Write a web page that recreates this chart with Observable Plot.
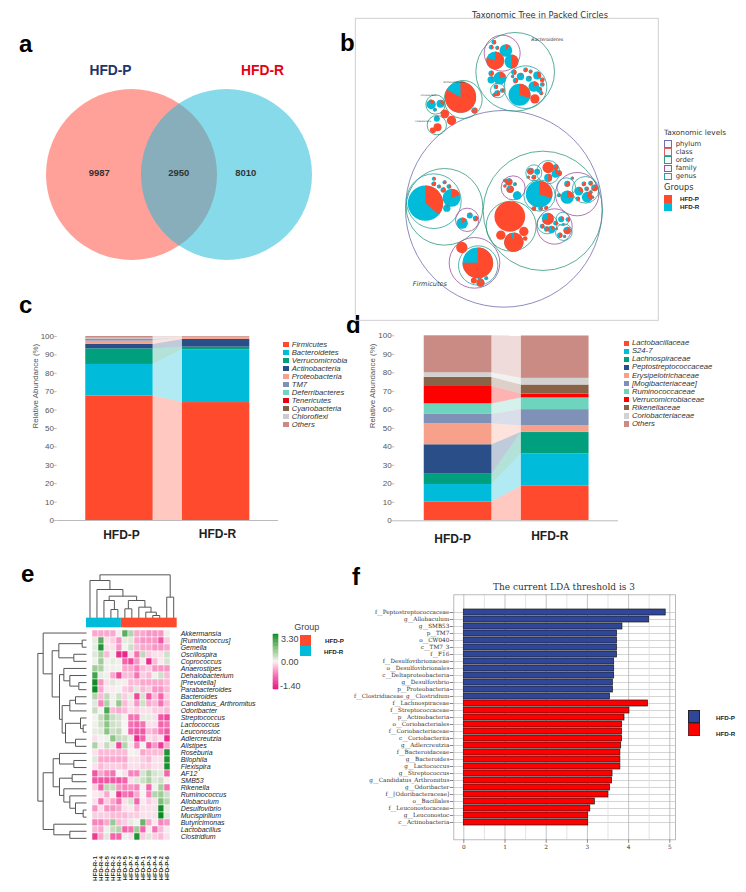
<!DOCTYPE html>
<html><head><meta charset="utf-8">
<style>
html,body{margin:0;padding:0;background:#fff}
#root{position:relative;width:746px;height:892px;overflow:hidden;font-family:"Liberation Sans",Arial,sans-serif}
.p{position:absolute}
.t{position:absolute;white-space:nowrap;transform:translateY(-50%);line-height:1}
.s{position:absolute;box-sizing:border-box}
</style>
<script src="https://cdn.jsdelivr.net/npm/d3@7"></script>
<script src="https://cdn.jsdelivr.net/npm/@observablehq/plot@0.6"></script>
</head><body><div id="root"></div>
<script>
const RED="#FF4A2E", CYAN="#00BBDA";
// ---- a: Venn
const vennCounts=[{label:"9987",x:98.7},{label:"2950",x:178.3},{label:"8010",x:245.3}];
const vennSets=[{name:"HFD-P",x:131,fill:"#FFA199",op:1},{name:"HFD-R",x:226,fill:"#1CB9D7",op:.53}];
// ---- b: packed circles (view units, 3 per pixel)
const levelNames=["phylum","class","order","family","genus"];
const levelColors=["#6f6fae","#e06060","#2f9a80","#a050a0","#2aa0a0"];
const rings=[[490,625,295,0],[607,631,179,2],[312,619,115,2],[280,602,82,4],[380,658,35,3],[402,787,76,3],[413,795,59,4],
[512,677,75,2],[518,562,36,3],[580,517,24,4],[623,515,35,4],[597,585,47,4],[710,581,65,3],[642,678,53,3],[620,670,30,4],[667,655,20,4],[670,695,25,4],[677,560,28,4],[735,568,40,4],
[524,214,118,2],[485,158,54,3],[555,260,64,4],[472,270,22,4],[368,297,57,2],[285,312,29,2],[289,374,29,2]];
const pies=[[360,290,47,.83],[255,608,53,.36],[333,592,27,.2],[319,623,11,.1],[412,787,46,.75],[508,648,46,1],[520,725,29,.95],[481,704,14,1],[550,693,14,1],[554,714,7,1],
[596,581,40,.3],[623,501,17,1],[364,741,17,1],[537,283,33,.3],[464,180,27,.8],[496,150,19,.1],[513,183,21,.5],[583,295,14,1],[333,360,14,1],[313,340,13,1],[402,330,9,.8],[291,380,12,1],[278,390,8,1],
[460,125,7,.5],[452,140,7,.5],[470,142,6,.6],[452,218,8,.7],[452,238,11,.1],[478,233,19,.2],[466,259,7,.5],[470,278,9,.7],[485,270,7,.5],[461,283,6,.6],
[520,215,8,.5],[525,240,8,.6],[540,228,11,.1],[555,208,7,.7],[565,235,9,.2],[570,213,6,.6],[590,225,12,.4],[605,238,7,.8],[580,258,16,.2],[596,268,9,.3],[605,252,7,.4],[602,278,6,.6],[516,228,5,.5],
[272,312,14,.15],[300,310,12,.3],[283,328,6,.3],[270,302,5,.7],[289,355,9,.1],[275,388,7,1],
[505,544,11,.9],[523,551,6,.3],[509,566,11,.8],[530,585,13,.05],[493,556,5,.7],[492,540,5,.7],
[570,512,10,.9],[590,514,9,.1],[580,530,7,.8],[563,530,5,.5],[645,500,9,.8],[655,518,9,.5],[645,520,12,.3],[623,532,12,.5],[580,624,7,.8],[600,624,7,.5],[617,622,6,.8],
[622,655,18,.7],[605,677,7,.6],[618,685,8,.6],[633,687,11,.2],[645,668,7,.5],[648,685,4,.5],[662,656,9,.3],[682,657,7,.5],[668,672,4,.3],[680,690,11,.8],[658,704,8,.6],[672,708,5,.4],
[680,590,20,.25],[655,584,6,.5],[680,550,9,.7],[695,533,5,.4],[740,590,16,.35],[715,572,13,.3],[730,550,7,.7],[750,548,7,.6],[738,565,7,.5],[762,562,10,.7],[750,575,6,.5],[712,595,7,.5],[756,590,5,.5],
[280,535,6,.4],[280,550,7,.8],[295,558,6,.5],[312,545,6,.6],[308,568,8,.7],[325,558,7,.5],[365,668,17,.15],[388,645,9,.1],[405,654,8,.6],
[400,840,9,1],[420,847,12,.95],[417,835,6,.3],[437,833,6,.2]];
const packLabels=[{s:"Bacteroidetes",x:620,y:118,fs:4.6},{s:"Firmicutes",x:268,y:850,fs:6.5},{s:"Verrucomicrobia",x:340,y:245,fs:2.6},{s:"Actinobacteria",x:264,y:283,fs:2.2},{s:"Proteobacteria",x:248,y:362,fs:2.2}];
// ---- c
const phyla=["Firmicutes","Bacteroidetes","Verrucomicrobia","Actinobacteria","Proteobacteria","TM7","Deferribacteres","Tenericutes","Cyanobacteria","Chloroflexi","Others"];
const phylaP=[67.6,17.2,8.5,2.4,1.8,1.0,.1,.05,.05,.4,.9];
const phylaR=[64.1,28.7,1.4,4.2,.9,.1,.05,.05,.0,.1,.4];
const phylaColors=["#FF4A2E","#00BBDA","#00A07F","#2A4E87","#F7A18A","#8091B8","#6FD4BE","#E60012","#7E6148","#CCCCCC","#C98B84"];
// ---- d
const families=["Lactobacillaceae","S24-7","Lachnospiraceae","Peptostreptococcaceae","Erysipelotrichaceae","[Mogibacteriaceae]","Ruminococcaceae","Verrucomicrobiaceae","Rikenellaceae","Coriobacteriaceae","Others"];
const familyP=[10.1,9.5,5.6,15.9,11.3,5.1,5.7,9.4,4.9,2.5,20];
const familyR=[18.7,17.5,11.5,.1,3.5,8.8,6.3,2.1,4.9,3.6,22.9];
const familyColors=["#FF4A2E","#00BBDA","#00A07F","#2A4E87","#F7A18A","#8091B8","#6FD4BE","#FF0000","#8A6248","#D2D2D2","#C98B84"];
const percentTicks=[0,10,20,30,40,50,60,70,80,90,100];
const barSlots=[{g:"HFD-P",x1:0,x2:1},{g:"HFD-R",x1:1.435,x2:2.435}];
// ---- e
const heatCols=["HFD-R-1","HFD-R-4","HFD-R-5","HFD-R-2","HFD-R-3","HFD-P-5","HFD-P-7","HFD-P-8","HFD-P-1","HFD-P-3","HFD-P-4","HFD-P-2","HFD-P-6"];
const heatRows=["Akkermansia","[Ruminococcus]","Gemella","Oscillospira","Coprococcus","Anaerostipes","Dehalobacterium","[Prevotella]","Parabacteroides","Bacteroides","Candidatus_Arthromitus","Odoribacter","Streptococcus","Lactococcus","Leuconostoc","Adlercreutzia","Alistipes","Roseburia","Bilophila","Flexispira","AF12","SMB53","Rikenella","Ruminococcus","Allobaculum","Desulfovibrio","Mucispirillum","Butyricimonas","Lactobacillus","Clostridium"];
const heatValues=[
[-.4,-.4,-.4,-.4,-.05,2.2,.9,-.4,-.4,-.5,-.5,-.5,.1],
[.2,2.2,-.1,-.2,-.5,.2,.3,-.4,-.5,-.5,-.5,-.9,-.2],
[.2,3,-.1,-.1,-.5,.05,.5,-.3,-.4,-.4,-.5,-.5,-.4],
[.3,1,-.3,.1,-1.2,-1.25,-.1,-.7,.7,-.2,-.1,-.1,.5],
[.1,1.2,.1,.2,.1,-.8,-1,-.5,-.05,-1.2,-.3,-.05,.4],
[1.2,1,.1,.1,.05,-.4,-.4,-.6,-.3,-.2,-.5,-.5,-.5],
[2.5,.2,.1,-.4,-1,-.3,-.3,-.7,-.2,-.3,.1,.5,-.3],
[3.2,-.5,-.1,.3,.1,-.05,-.3,-.3,-.4,-.4,-.4,-.4,-.3],
[3.3,-.4,-.05,-.05,.05,-.2,-.3,.3,-.3,-.2,-.5,-.5,-.3],
[.9,-.3,.7,.1,.5,-.2,.2,-1,.4,-.9,-.3,-.8,-.2],
[.3,-.6,1,.1,1.4,-.3,-.1,-.5,.5,-.4,-.3,-.7,-.3],
[.6,.05,2.4,-.3,-.4,-.3,-.1,-.2,-.1,-.1,-.2,-.2,-.3],
[.05,.6,1.6,.6,.4,.05,-.7,-.7,.2,.2,-.1,-.9,-1],
[.1,.5,1.5,.5,.4,0,-.7,-.8,-.7,-.1,-.1,-.8,-.7],
[.2,.3,1.5,.5,.7,0,-.8,-.9,-.9,-.3,-.4,-.7,-.9],
[-.1,.05,.1,1.5,.6,.5,.2,-1.2,-.8,-.1,-.2,-.1,-1.2],
[1,-.05,.6,.2,-1,.9,-.05,-.6,.05,-.9,-.5,-1.1,-.4],
[-.1,-.3,-.3,-.3,-.3,-.3,.05,.1,-.4,-.3,-.3,-.3,3],
[.3,-.4,-.4,-.4,-.4,-.4,-.1,-.1,-.2,-.3,-.1,-.1,3],
[-.1,-.3,-.2,-.2,-.2,-.3,-.1,-.1,-.2,-.2,-.1,-.1,3.1],
[-.9,-.4,-.6,-.7,0,-.1,-.6,-.6,.4,1,.4,.3,-.8],
[-.9,-.9,-.9,-.9,-.9,-.8,-.1,.3,.5,1,.3,.5,.05],
[-.2,-.8,.7,.6,-.5,-.6,-.5,-.6,.05,-.8,.1,1.1,-.7],
[-.05,-.1,-.4,.05,-1.1,-.7,-.8,-.4,0,-.6,.9,1.2,.5],
[-.1,-.7,-.2,-.4,-.7,-.1,.4,-.8,-.05,-.2,-.1,1.7,.8],
[-.5,-.1,-.5,-.5,-.4,-.1,-.05,-.3,-.1,-.1,-.1,3.2,.2],
[-.2,-.2,-.2,-.3,-.3,-.3,-.2,-.2,-.1,-.1,-.1,3.3,.3],
[-.6,-.6,-.4,1.3,-.3,-.2,.2,.05,2,-.4,-.05,-.6,-.5],
[-.3,-.4,.1,.6,.9,-.8,-.7,1.2,-.8,-.05,-.7,-.3,-.05],
[-1.1,-.4,.3,-.8,-.8,.1,-.1,3,-.2,.3,-.2,-.3,-.1]];
const heatDomain=[-1.4,-.7,-.25,0,.6,1.6,3.3];
const heatRange=["#e5127f","#f572b3","#fcc3dc","#f7f4f3","#c7dcc0","#86c27f","#0a8a22"];
const groupBars=[{g:"HFD-R",from:0,to:5,c:CYAN},{g:"HFD-P",from:5,to:13,c:RED}];
// dendrograms: [height, childA, childB], leaves are indexes
const colTree=[28,[45,0,[72,1,[92,[105,2,[132,3,4]],[105,[130,5,6],[125,7,[140,8,[150,9,10]]]]]]],[95,11,12]];
const rowTree=[82,
 [98,0,[125,[145,[215,1,2],[190,3,4]],[147,[160,5,[178,6,[205,7,8]]],[155,[178,[195,9,10],11],[165,[210,12,[218,13,14]],[195,15,16]]]]]],
 [98,[128,[147,17,[190,18,19]],[147,[185,20,21],[160,22,[178,23,[195,24,[218,25,26]]]]]],[130,27,[178,28,29]]]];
// ---- f
const ldaNames=["f__Peptostreptococcaceae","g__Allobaculum","g__SMB53","p__TM7","o__CW040","c__TM7_3","f__F16","f__Desulfovibrionaceae","o__Desulfovibrionales","c__Deltaproteobacteria","g__Desulfovibrio","p__Proteobacteria","f__Clostridiaceae_g__Clostridium","f__Lachnospiraceae","f__Streptococcaceae","p__Actinobacteria","o__Coriobacteriales","f__Coriobacteriaceae","c__Coriobacteriia","g__Adlercreutzia","f__Bacteroidaceae","g__Bacteroides","g__Lactococcus","g__Streptococcus","g__Candidatus_Arthromitus","g__Odoribacter","f__[Odoribacteraceae]","o__Bacillales","f__Leuconostocaceae","g__Leuconostoc","c__Actinobacteria"];
const ldaValues=[4.9,4.5,3.85,3.72,3.72,3.72,3.72,3.65,3.65,3.65,3.62,3.62,3.55,4.47,4.02,3.9,3.84,3.84,3.84,3.82,3.8,3.8,3.8,3.61,3.6,3.55,3.51,3.18,3.07,3.02,3.02];
const ldaGroupP=13;
const ldaMajor=[0,1,2,3,4,5], ldaMinor=[.5,1.5,2.5,3.5,4.5];

// ---- helpers
const root=document.getElementById("root");
function panel(left,top,width,height,opts,family){
  const svg=Plot.plot({width,height,marginTop:0,marginRight:0,marginBottom:0,marginLeft:0,
    style:{background:"transparent",overflow:"visible",fontFamily:family||'"Liberation Sans",Arial,sans-serif'},...opts});
  svg.setAttribute("class",(svg.getAttribute("class")||"")+" p");
  svg.style.position="absolute";svg.style.left=left+"px";svg.style.top=top+"px";svg.style.maxWidth="none";
  root.appendChild(svg);return svg;
}
function txt(x,y,s,css){const d=document.createElement("div");d.className="t";d.textContent=s;d.style.left=x+"px";d.style.top=y+"px";Object.assign(d.style,css||{});root.appendChild(d);return d;}
function box(x,y,w,h,css){const d=document.createElement("div");d.className="s";Object.assign(d.style,{left:x+"px",top:y+"px",width:w+"px",height:h+"px"},css);root.appendChild(d);}
const letter={fontWeight:"bold",fontSize:"24px",color:"#000"};
[["a",19,44],["b",340,43],["c",19,305],["d",346,325],["e",21,574],["f",352,577]].forEach(([s,x,y])=>txt(x,y,s,letter));
const noAxis={axis:null};

// a
panel(0,0,340,270,{x:{domain:[0,340],...noAxis},y:{domain:[270,0],...noAxis},r:{type:"linear",domain:[0,100],range:[0,100]},
 marks:[
  ...vennSets.map(s=>Plot.dot([s],{x:"x",y:()=>174,r:()=>85.5,fill:"fill",fillOpacity:s.op})),
  Plot.text(vennCounts,{x:"x",y:()=>172.7,text:"label",fontSize:9.5,fontWeight:"bold",fill:"#333"}),
  Plot.text(vennSets,{x:d=>d.name==="HFD-P"?110:262,y:()=>70,text:"name",fontSize:13.8,fontWeight:"bold",fill:d=>d.name==="HFD-P"?"#1F3468":"#E60012"})
 ]});

// b
const wedge=f=>({draw(ctx,size){const r=Math.sqrt(size/Math.PI);const a=-Math.PI/2;ctx.moveTo(0,0);ctx.arc(0,0,r,a,a+2*Math.PI*f);ctx.closePath();}});
const fullPies=pies.filter(p=>p[3]>=1), partPies=pies.filter(p=>p[3]<1);
panel(340,0,400,330,{x:{domain:[0,1200],...noAxis},y:{domain:[990,0],...noAxis},r:{type:"linear",domain:[0,3],range:[0,1]},
 marks:[
  Plot.rect([{}],{x1:()=>46,x2:()=>955,y1:()=>55,y2:()=>961,fill:"none",stroke:"#cfcfcf",strokeWidth:1}),
  Plot.dot(rings,{x:d=>d[0],y:d=>d[1],r:d=>d[2],fill:"none",stroke:d=>levelColors[d[3]],strokeWidth:.8}),
  Plot.dot(partPies,{x:d=>d[0],y:d=>d[1],r:d=>d[2],fill:CYAN}),
  Plot.dot(fullPies,{x:d=>d[0],y:d=>d[1],r:d=>d[2],fill:RED}),
  ...partPies.map(p=>Plot.dot([p],{x:d=>d[0],y:d=>d[1],r:d=>d[2],fill:RED,symbol:wedge(p[3])})),
  Plot.text(packLabels,{x:"x",y:"y",text:"s",fontSize:"fs",fontStyle:"italic",fill:"#333"})
 ]},'"DejaVu Sans",sans-serif');
const dj='"DejaVu Sans",sans-serif';
txt(540,14.7,"Taxonomic Tree in Packed Circles",{fontFamily:dj,fontSize:"8.3px",color:"#333",transform:"translate(-50%,-50%)"});
txt(664,132.5,"Taxonomic levels",{fontFamily:dj,fontSize:"7.3px",color:"#333"});
levelNames.forEach((n,i)=>{box(664,140+i*8.17,7.5,7.5,{border:"1px solid "+levelColors[i],background:"#f4f8fb"});txt(675.7,143.8+i*8.17,n,{fontFamily:dj,fontSize:"6.8px",color:"#333"});});
txt(664,187,"Groups",{fontFamily:dj,fontSize:"8.3px",color:"#333"});
[["HFD-P",RED],["HFD-R",CYAN]].forEach(([n,c],i)=>{box(664,195+i*8,7.7,7.7,{background:c});txt(680,198.8+i*8,n,{fontSize:"6.2px",fontWeight:"bold",color:"#222"});});

// c, d
function stacked(left,top,width,height,mL,mT,mB,xDomain,names,vP,vR,colors,labels){
  const acc=(v)=>{let s=0;return v.map(x=>{const a=s;s+=x;return [a,s];});};
  const sP=acc(vP),sR=acc(vR);
  const rects=[];const flows=[];
  names.forEach((n,i)=>{
    if(vP[i]>0)rects.push({n,x1:barSlots[0].x1,x2:barSlots[0].x2,y1:sP[i][0],y2:sP[i][1]});
    if(vR[i]>0)rects.push({n,x1:barSlots[1].x1,x2:barSlots[1].x2,y1:sR[i][0],y2:sR[i][1]});
    flows.push({n,x:barSlots[0].x2,y1:sP[i][0],y2:sP[i][1]},{n,x:barSlots[1].x1,y1:sR[i][0],y2:sR[i][1]});
  });
  panel(left,top,width,height,{marginLeft:mL,marginTop:mT,marginBottom:mB,
    x:{domain:xDomain,...noAxis},y:{domain:[0,100]},color:{domain:names,range:colors},
    marks:[
      Plot.area(flows,{x1:"x",y1:"y1",y2:"y2",z:"n",fill:"n",fillOpacity:.3}),
      Plot.rect(rects,{x1:"x1",x2:"x2",y1:"y1",y2:"y2",fill:"n"}),
      Plot.ruleY([0],{stroke:"#bbb",strokeWidth:1}),
      Plot.axisY({ticks:percentTicks,tickSize:2.5,tickPadding:.7,fontSize:8,color:"#bbb",fill:"#555",label:null}),
      Plot.text(["Relative Abundance (%)"],{frameAnchor:"left",rotate:-90,dx:-22,fontSize:7.9,fill:"#555"}),
      ...barSlots.map(s=>Plot.text([s],{x:d=>(d.x1+d.x2)/2+labels[d.g].dx,y:()=>0,text:"g",fontSize:12,fontWeight:"bold",fill:"#222",lineAnchor:"middle",dy:labels[s.g].dy}))
    ]});
}
stacked(0,300,278,260,56.7,36,40,[-.424,2.861],phyla,phylaP,phylaR,phylaColors,{"HFD-P":{dx:.03,dy:15},"HFD-R":{dx:.02,dy:14}});
stacked(350,310,268,260,44.3,25.3,49.7,[-.435,2.87],families,familyP,familyR,familyColors,{"HFD-P":{dx:-.08,dy:18},"HFD-R":{dx:-.08,dy:15}});
function legendIt(x,y,step,names,colors){names.forEach((n,i)=>{box(x,y+i*step-2.7,5.4,5.4,{background:colors[i]});txt(x+8.4,y+i*step,n,{fontSize:"7.7px",fontStyle:"italic",color:"#333"});});}
legendIt(283.3,344.5,8.03,phyla,phylaColors);
legendIt(623.5,343.3,8.06,families,familyColors);

// e
const heatData=[];heatRows.forEach((r,i)=>heatCols.forEach((c,j)=>heatData.push({r,c,v:heatValues[i][j]})));
const heatColor={type:"linear",domain:heatDomain,range:heatRange};
panel(0,565,176.7,276.7,{marginLeft:86,marginTop:64.3,
  x:{domain:heatCols,padding:0,axis:null},y:{domain:heatRows,padding:0,axis:null},color:heatColor,
  marks:[
    Plot.cell(heatData,{x:"c",y:"r",fill:"v",stroke:"#fff",strokeWidth:.5}),
    Plot.axisY({anchor:"right",tickSize:0,tickPadding:3.5,fontSize:7,fontStyle:"italic",fill:"#222",label:null}),
    Plot.axisX({anchor:"bottom",tickSize:0,tickPadding:14,tickRotate:-90,fontSize:6.2,fontWeight:"bold",fill:"#222",label:null})
  ]});
function treeSegs(node,segs,leaf,edge){
  if(typeof node==="number")return {p:node+.5,h:edge};
  const [h,a,b]=node;const A=treeSegs(a,segs,leaf,edge),B=treeSegs(b,segs,leaf,edge);
  segs.push({p1:A.p,h1:A.h,p2:A.p,h2:h},{p1:B.p,h1:B.h,p2:B.p,h2:h},{p1:A.p,h1:h,p2:B.p,h2:h});
  return {p:(A.p+B.p)/2,h};
}
const cSegs=[];treeSegs(colTree,cSegs,0,158);
const rSegs=[];treeSegs(rowTree,rSegs,0,228);
const linkStyle={stroke:"#555",strokeWidth:1};
panel(86,565,90.7,160,{x:{domain:[0,13],...noAxis},y:{domain:[480,0],...noAxis},color:{type:"identity"},marks:[
  Plot.link(cSegs,{x1:"p1",x2:"p2",y1:"h1",y2:"h2",...linkStyle}),
  Plot.rect(groupBars,{x1:"from",x2:"to",y1:()=>158,y2:()=>187,fill:"c"})
]});
panel(10,629.3,200,212.4,{x:{domain:[0,600],...noAxis},y:{domain:[30,0],...noAxis},marks:[
  Plot.link(rSegs,{x1:"h1",x2:"h2",y1:"p1",y2:"p2",...linkStyle})
]});
// colour bar: upper half 3.30 to 0, lower half 0 to -1.40
const barSteps=d3.range(40).map(i=>({i,v:i<20?3.3*(1-(i+.5)/20):-1.4*((i+.5-20)/20)}));
panel(272.7,634.3,40,55,{marginRight:35,x:{domain:[0,1],...noAxis},y:{domain:[40,0],...noAxis},color:heatColor,marks:[
  Plot.rect(barSteps,{x1:()=>0,x2:()=>1,y1:"i",y2:d=>d.i+1,fill:"v",stroke:"v",strokeWidth:.5})
]});
const lg={fontSize:"9px",color:"#444"};
txt(281,638.7,"3.30",lg);txt(281,661.7,"0.00",lg);txt(280,686,"-1.40",lg);
txt(306.7,626.7,"Group",{fontSize:"9px",color:"#444",transform:"translate(-50%,-50%)"});
box(300,634.7,11,11,{background:RED});box(300,645.7,11,10.5,{background:CYAN});
txt(325,640.7,"HFD-P",{fontSize:"6.2px",fontWeight:"bold",color:"#222"});txt(324,652,"HFD-R",{fontSize:"6.2px",fontWeight:"bold",color:"#222"});

// f
const ldaData=ldaNames.map((n,i)=>({n,v:ldaValues[i],g:i<ldaGroupP?"HFD-P":"HFD-R"}));
panel(360,565,315,300,{marginLeft:93.3,marginTop:29.3,marginBottom:25.7,
  x:{domain:[-.243,5.138],...noAxis},y:{domain:ldaNames,padding:.13,...noAxis},color:{domain:["HFD-P","HFD-R"],range:["#2F4699","#FF0000"]},
  marks:[
    Plot.ruleY(ldaNames,{y:d=>d,stroke:"#d4d4d4",strokeWidth:1}),
    Plot.ruleX(ldaMinor,{stroke:"#dcdcdc",strokeWidth:.8}),
    Plot.ruleX(ldaMajor,{stroke:"#b4b4b4",strokeWidth:.8}),
    Plot.barX(ldaData,{y:"n",x1:()=>0,x2:"v",fill:"g",stroke:"#1a1a1a",strokeWidth:.7}),
    Plot.frame({stroke:"#aaa",strokeWidth:.8}),
    Plot.axisX({ticks:ldaMajor,tickFormat:"d",tickSize:3.5,tickPadding:1.5,fontSize:5.8,color:"#888",fill:"#333",label:null}),
    Plot.axisY({tickSize:3.5,tickPadding:1,fontSize:5.7,color:"#888",fill:"#333",label:null})
  ]},'"DejaVu Serif",serif');
txt(564,586.7,"The current LDA threshold is 3",{fontFamily:'"DejaVu Serif",serif',fontSize:"9px",color:"#333",transform:"translate(-50%,-50%)"});
box(687.7,710,12.5,13,{background:"#2F4699",border:"1px solid #223"});
box(687.7,723,12.5,13,{background:"#FF0000",border:"1px solid #722"});
txt(716,718,"HFD-P",{fontSize:"6.2px",fontWeight:"bold",color:"#222"});
txt(716,733.7,"HFD-R",{fontSize:"6.2px",fontWeight:"bold",color:"#222"});
</script></body></html>
